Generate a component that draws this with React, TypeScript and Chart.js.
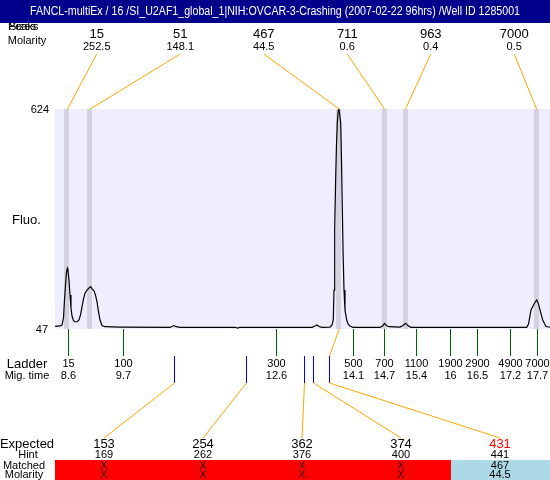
import React, { useEffect, useRef } from "react";
import { Chart, registerables } from "chart.js";
Chart.register(...registerables);

const titleText =
  "FANCL-multiEx / 16 /SI_U2AF1_global_1|NIH:OVCAR-3-Crashing (2007-02-22 96hrs) /Well ID 1285001";

// electropherogram trace (migration time in s, fluorescence)
const traceTime = [
  8.35, 8.447, 8.486, 8.515, 8.534, 8.554, 8.573, 8.589, 8.602, 8.622, 8.641, 8.66, 8.68, 8.709,
  8.738, 8.777, 8.815, 8.845, 8.874, 8.903, 8.932, 8.971, 9.009, 9.042, 9.068, 9.106, 9.135,
  9.165, 9.194, 9.223, 9.262, 9.32, 9.611, 10.58, 10.619, 10.658, 10.697, 10.774, 11.841, 11.893,
  11.938, 13.334, 13.392, 13.431, 13.47, 13.528, 13.683, 13.722, 13.747, 13.761, 13.774, 13.794,
  13.809, 13.825, 13.842, 13.858, 13.877, 13.891, 13.906, 13.922, 13.936, 13.955, 13.974, 14.007,
  14.033, 14.071, 14.129, 14.653, 14.701, 14.74, 14.779, 14.827, 15.041, 15.099, 15.148, 15.196,
  15.254, 17.498, 17.533, 17.582, 17.646, 17.692, 17.727, 17.756, 17.808, 17.843, 17.872, 17.95,
];
const traceFluo = [
  54, 55, 57.5, 76, 123, 162, 196, 206, 199, 175, 136, 102, 81, 69, 66, 66, 70.6, 84, 105, 126,
  141, 149, 154.5, 158, 153, 147, 136, 118, 92, 70.6, 56, 53, 52, 51.5, 53.6, 56, 53, 51.5, 51.5,
  49.6, 51.5, 51.5, 55, 57.5, 53.6, 51.5, 52, 57.5, 70.6, 149, 307, 446, 530, 587, 619, 624, 624,
  587, 490, 368, 254, 149, 97, 70.6, 60, 55, 51.5, 51.5, 55, 61.4, 56, 53, 52, 56, 62, 56, 51.5,
  51.5, 60, 97, 114, 123, 113, 97, 70.6, 61.4, 53.6, 51.5,
];

// detected peaks
const peakTimes = [8.592, 9.032, 13.862, 14.741, 15.148, 17.69];
const peakSizes = ["15", "51", "467", "711", "963", "7000"];
const peakMolarity = ["252.5", "148.1", "44.5", "0.6", "0.4", "0.5"];

// ladder
const ladderTimes = [8.6, 9.66, 12.63, 14.12, 14.73, 15.36, 16.02, 16.53, 17.18, 17.7];
const ladderSizes = ["15", "100", "300", "500", "700", "1100", "1900", "2900", "4900", "7000"];
const ladderMig = ["8.6", "9.7", "12.6", "14.1", "14.7", "15.4", "16", "16.5", "17.2", "17.7"];

// expected fragments
const expectedSizes = ["153", "254", "362", "374", "431"];
const hintSizes = ["169", "262", "376", "400", "441"];
const hintTimes = [10.664, 12.06, 13.185, 13.36, 13.67];
const matchedSizes = ["X", "X", "X", "X", "467"];
const matchedMolarity = ["X", "X", "X", "X", "44.5"];
const matchedPeak = [-1, -1, -1, -1, 2];

const fluoTicks = [47, 624];
const timeRange = [8.35, 17.95];

const FONT = "Arial, 'Liberation Sans', Helvetica, sans-serif";

function txt(
  ctx: CanvasRenderingContext2D,
  s: string,
  x: number,
  y: number,
  size: number,
  color = "#000",
  align: CanvasTextAlign = "center"
) {
  ctx.font = `${size}px ${FONT}`;
  ctx.fillStyle = color;
  ctx.textAlign = align;
  ctx.textBaseline = "middle";
  ctx.fillText(s, x, y);
}

function line(ctx: CanvasRenderingContext2D, x1: number, y1: number, x2: number, y2: number, color: string) {
  ctx.strokeStyle = color;
  ctx.lineWidth = 1;
  ctx.beginPath();
  ctx.moveTo(x1, y1);
  ctx.lineTo(x2, y2);
  ctx.stroke();
}

const overlay = {
  id: "overlay",
  beforeDatasetsDraw(chart: any) {
    const { ctx, chartArea: a, scales } = chart;
    const x = scales.x;
    ctx.save();
    ctx.fillStyle = "#eeeeff";
    ctx.fillRect(a.left, a.top, a.right - a.left, a.bottom - a.top);
    ctx.fillStyle = "#d3d3df";
    peakTimes.forEach((t) => {
      const px = Math.round(x.getPixelForValue(t));
      ctx.fillRect(px - 3, a.top, 5, a.bottom - a.top);
    });
    ctx.restore();
  },
  afterDraw(chart: any) {
    const { ctx, chartArea: a, scales } = chart;
    const x = scales.x;
    const y = scales.y;
    ctx.save();

    // header labels (partly hidden by title bar)
    txt(ctx, "Peaks", 8, 27, 11, "#000", "left");
    txt(ctx, "Sizes", 9, 27, 11, "#000", "left");
    txt(ctx, "Molarity", 27, 41, 11);

    // title bar
    ctx.fillStyle = "#00008b";
    ctx.fillRect(0, 0, 550, 23);
    ctx.font = `12.5px ${FONT}`;
    const tw = ctx.measureText(titleText).width;
    const sx = Math.min(1, 490 / tw);
    ctx.save();
    ctx.translate(275, 12);
    ctx.scale(sx, 1);
    txt(ctx, titleText, 0, 0, 12.5, "#fff");
    ctx.restore();

    // peak labels and connectors
    const topW = 83.5;
    peakSizes.forEach((s, i) => {
      const cx = a.left + (i + 0.5) * topW;
      txt(ctx, s, cx, 34, 13);
      txt(ctx, peakMolarity[i], cx, 47, 11);
      line(ctx, cx, 54, x.getPixelForValue(peakTimes[i]), a.top, "#ffa500");
    });

    // y labels
    txt(ctx, String(fluoTicks[1]), 49, y.getPixelForValue(fluoTicks[1]) + 1, 11, "#000", "right");
    txt(ctx, String(fluoTicks[0]), 48, y.getPixelForValue(fluoTicks[0]) + 1, 11, "#000", "right");
    txt(ctx, "Fluo.", 12, 220, 13, "#000", "left");

    // ladder
    txt(ctx, "Ladder", 27, 364, 13);
    txt(ctx, "Mig. time", 27, 376, 11);
    ladderTimes.forEach((t, i) => {
      const px = Math.round(x.getPixelForValue(t)) + 0.5;
      line(ctx, px, a.bottom, px, a.bottom + 27, "#006400");
      txt(ctx, ladderSizes[i], px, 364, 11);
      txt(ctx, ladderMig[i], px, 376, 11);
    });

    // expected fragments
    const colW = 99;
    const rowTop = 460;
    hintTimes.forEach((t, i) => {
      const px = Math.round(x.getPixelForValue(t)) + 0.5;
      const left = a.left + i * colW;
      const cx = left + 49;
      const matched = matchedPeak[i] >= 0;
      line(ctx, px, a.bottom + 27, px, a.bottom + 54, "#0000ff");
      line(ctx, px, a.bottom + 54, cx, 438, "#ffa500");
      if (matched) {
        line(ctx, x.getPixelForValue(peakTimes[matchedPeak[i]]), a.bottom, px, a.bottom + 27, "#ffa500");
      }
      ctx.fillStyle = matched ? "#add8e6" : "#ff0000";
      ctx.fillRect(left, rowTop, colW, 20);
      txt(ctx, expectedSizes[i], cx, 444, 13, matched ? "#ff0000" : "#000");
      txt(ctx, hintSizes[i], cx, 455, 11);
      txt(ctx, matchedSizes[i], cx, 466, 11, matched ? "#000" : "#300");
      txt(ctx, matchedMolarity[i], cx, 475, 11, matched ? "#000" : "#300");
    });
    txt(ctx, "Expected", 27, 444, 13);
    txt(ctx, "Hint", 28, 455, 11);
    txt(ctx, "Matched", 24, 466, 11);
    txt(ctx, "Molarity", 24, 475, 11);

    ctx.restore();
  },
};

export default function App() {
  const ref = useRef<HTMLCanvasElement | null>(null);
  useEffect(() => {
    document.body.style.margin = "0";
    const canvas = ref.current!;
    const chart = new Chart(canvas, {
      type: "line",
      data: {
        datasets: [
          {
            data: traceTime.map((t, i) => ({ x: t, y: traceFluo[i] })),
            borderColor: "#000",
            borderWidth: 1.2,
            pointRadius: 0,
            tension: 0,
            fill: false,
          },
        ],
      },
      options: {
        responsive: false,
        animation: false,
        events: [],
        layout: { padding: { left: 55, right: 0, top: 109, bottom: 151 } },
        plugins: { legend: { display: false }, tooltip: { enabled: false }, title: { display: false } },
        scales: {
          x: { type: "linear", min: timeRange[0], max: timeRange[1], display: false },
          y: { type: "linear", min: fluoTicks[0], max: fluoTicks[1], display: false },
        },
      },
      plugins: [overlay],
    });
    return () => chart.destroy();
  }, []);
  return <canvas ref={ref} width={550} height={480} style={{ display: "block", width: 550, height: 480 }} />;
}
